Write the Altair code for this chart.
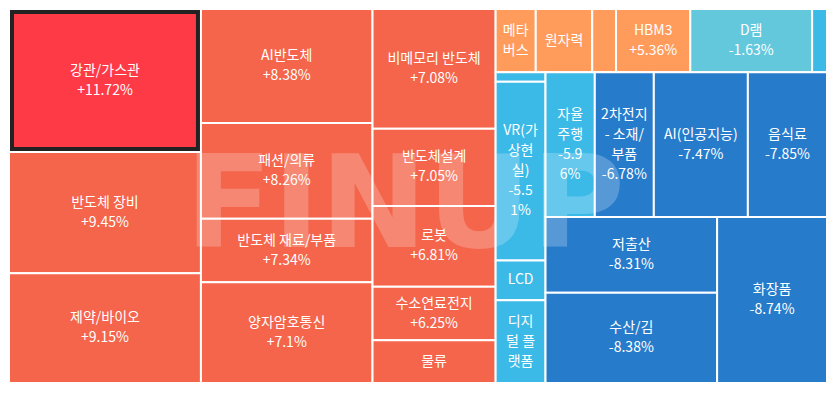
import altair as alt
import pandas as pd

# ---- data ----
names = ["강관/가스관", "반도체 장비", "제약/바이오",
         "AI반도체", "패션/의류", "반도체 재료/부품", "양자암호통신",
         "비메모리 반도체", "반도체설계", "로봇", "수소연료전지", "물류",
         "메타버스", "원자력", "기타", "HBM3", "D램", "기타2",
         "기타3", "VR(가상현실)", "LCD", "디지털 플랫폼",
         "자율주행", "2차전지 - 소재/부품", "AI(인공지능)", "음식료",
         "저출산", "수산/김",
         "화장품"]
changes = [11.72, 9.45, 9.15,
           8.38, 8.26, 7.34, 7.1,
           7.08, 7.05, 6.81, 6.25, 6.2,
           5.9, 5.7, 5.5, 5.36, -1.63, -4.5,
           -5.2, -5.51, -5.6, -5.8,
           -5.96, -6.78, -7.47, -7.85,
           -8.31, -8.38,
           -8.74]
weights = [292, 248, 224,
           208, 175, 116, 184,
           157, 101, 106, 70, 56,
           27, 38, 16, 50, 82, 10,
           5, 95, 21, 44,
           76, 91, 145, 122,
           138, 165,
           194]
rows = [0, 0, 0,
        1, 1, 1, 1,
        2, 2, 2, 2, 2,
        3, 3, 3, 3, 3, 3,
        4, 4, 4, 4,
        5, 5, 5, 5,
        6, 6,
        7]
labels = ["강관/가스관\n+11.72%", "반도체 장비\n+9.45%", "제약/바이오\n+9.15%",
          "AI반도체\n+8.38%", "패션/의류\n+8.26%", "반도체 재료/부품\n+7.34%", "양자암호통신\n+7.1%",
          "비메모리 반도체\n+7.08%", "반도체설계\n+7.05%", "로봇\n+6.81%", "수소연료전지\n+6.25%", "물류",
          "메타\n버스", "원자력", "", "HBM3\n+5.36%", "D램\n-1.63%", "",
          "", "VR(가\n상현\n실)\n-5.5\n1%", "LCD", "디지\n털 플\n랫폼",
          "자율\n주행\n-5.9\n6%", "2차전지\n- 소재/\n부품\n-6.78%", "AI(인공지능)\n-7.47%", "음식료\n-7.85%",
          "저출산\n-8.31%", "수산/김\n-8.38%",
          "화장품\n-8.74%"]

color_breaks = [-6, -3, 3, 6, 10]
color_range = ["#277bcb", "#3bb9e7", "#64c8dd", "#ff9c5b", "#f4654b", "#ff3a47"]

# ---- squarified layout with the row groups seen in the picture ----
W, H = 834.0, 390.0
PLOT_W, PLOT_H = 821, 377
LINE_H = 20


def layout(weights, rows, W, H):
    k = W * H / sum(weights)
    x0, y0, x1, y1 = 0.0, 0.0, W, H
    out = [None] * len(weights)
    for r in sorted(set(rows)):
        idx = [i for i, g in enumerate(rows) if g == r]
        area = sum(weights[i] for i in idx) * k
        w, h = x1 - x0, y1 - y0
        if w >= h:
            cw = area / h
            yy = y0
            for i in idx:
                ch = weights[i] * k / cw
                out[i] = (x0, x0 + cw, yy, yy + ch)
                yy += ch
            x0 += cw
        else:
            rh = area / w
            xx = x0
            for i in idx:
                cw2 = weights[i] * k / rh
                out[i] = (xx, xx + cw2, y0, y0 + rh)
                xx += cw2
            y0 += rh
    return out


boxes = layout(weights, rows, W, H)
df = pd.DataFrame({
    "name": names,
    "change": changes,
    "label": labels,
    "x0": [b[0] for b in boxes],
    "x1": [b[1] for b in boxes],
    "y0": [b[2] for b in boxes],
    "y1": [b[3] for b in boxes],
})
nlines = df["label"].str.count("\n") + 1
df["cx"] = (df["x0"] + df["x1"]) / 2
# first text line sits above the centre so that the whole block is centred
df["cy"] = (df["y0"] + df["y1"]) / 2 - (nlines - 1) / 2 * LINE_H * H / PLOT_H
df["top"] = df["change"] == df["change"].max()

xs = alt.Scale(domain=[0, W], nice=False, zero=False)
ys = alt.Scale(domain=[0, H], nice=False, zero=False, reverse=True)

base = alt.Chart(df)

rects = base.mark_rect(stroke="white", strokeWidth=2).encode(
    x=alt.X("x0:Q", scale=xs, axis=None),
    x2="x1:Q",
    y=alt.Y("y0:Q", scale=ys, axis=None),
    y2="y1:Q",
    color=alt.Color("change:Q",
                    scale=alt.Scale(type="threshold", domain=color_breaks, range=color_range),
                    legend=None),
)

highlight = base.transform_filter("datum.top").mark_rect(
    fill=None, stroke="#222222", strokeWidth=4,
    xOffset=3, x2Offset=-3, yOffset=3, y2Offset=-3,
).encode(
    x=alt.X("x0:Q", scale=xs, axis=None),
    x2="x1:Q",
    y=alt.Y("y0:Q", scale=ys, axis=None),
    y2="y1:Q",
)

watermark = alt.Chart(pd.DataFrame({"t": ["FINUP"]})).mark_text(
    font="DejaVu Sans", fontWeight="bold", fontSize=128, color="white",
    opacity=0.22, align="center", baseline="alphabetic",
).encode(
    x=alt.value(396),
    y=alt.value(238),
    text="t:N",
)

texts = base.mark_text(
    font="Noto Sans CJK KR", fontSize=14, color="white", lineBreak="\n",
    lineHeight=LINE_H, align="center", baseline="middle",
).encode(
    x=alt.X("cx:Q", scale=xs, axis=None),
    y=alt.Y("cy:Q", scale=ys, axis=None),
    text="label:N",
)

chart = alt.layer(rects, watermark, highlight, texts).properties(
    width=PLOT_W, height=PLOT_H,
    autosize=alt.AutoSizeParams(type="fit", contains="padding"),
    padding=0,
    background="white",
).configure_view(stroke=None)

chart.save("out.html", embed_options={"renderer": "svg", "actions": False})
